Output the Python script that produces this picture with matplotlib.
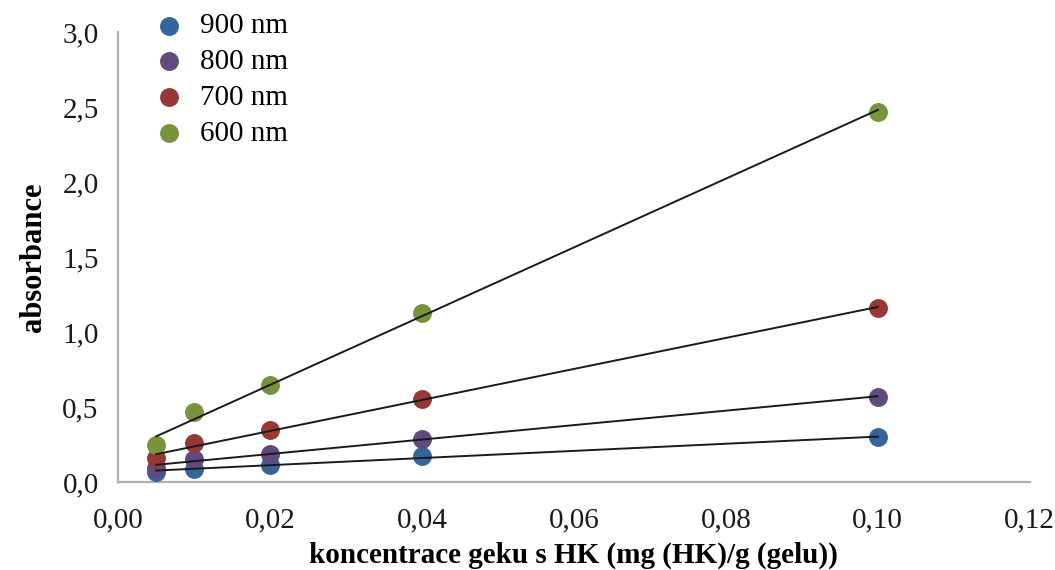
import numpy as np
import matplotlib
matplotlib.use("Agg")
import matplotlib.pyplot as plt
from matplotlib.ticker import FuncFormatter

plt.rcParams['font.family'] = ['Liberation Serif', 'DejaVu Serif']

x = [0.005, 0.01, 0.02, 0.04, 0.10]
series_names = ["900 nm", "800 nm", "700 nm", "600 nm"]
y900 = [0.065, 0.091, 0.116, 0.176, 0.298]
y800 = [0.098, 0.158, 0.187, 0.287, 0.571]
y700 = [0.160, 0.258, 0.347, 0.553, 1.164]
y600 = [0.247, 0.465, 0.649, 1.130, 2.469]
colors = ["#35659b", "#614a7d", "#953836", "#77933c"]

x_ticks = [0.0, 0.02, 0.04, 0.06, 0.08, 0.10, 0.12]
y_ticks = [0.0, 0.5, 1.0, 1.5, 2.0, 2.5, 3.0]

fig = plt.figure(figsize=(10.55, 5.70), dpi=100)
ax = fig.add_axes([0.112, 0.154, 0.864, 0.790])

xa = np.array(x)
for name, ys, c in zip(series_names, [y900, y800, y700, y600], colors):
    ax.scatter(xa, ys, s=185, color=c, label=name, zorder=3, linewidths=0)
for ys in [y900, y800, y700, y600]:
    k, q = np.polyfit(xa, ys, 1)
    xl = np.array([xa.min(), xa.max()])
    ax.plot(xl, k * xl + q, color="#1a1a1a", lw=1.4, zorder=4)

ax.set_xlim(0, 0.12)
ax.set_ylim(0, 3.0)
ax.set_xticks(x_ticks)
ax.set_yticks(y_ticks)
ax.xaxis.set_major_formatter(FuncFormatter(lambda v, p: f"{v:.2f}".replace(".", ",")))
ax.yaxis.set_major_formatter(FuncFormatter(lambda v, p: f"{v:.1f}".replace(".", ",")))
ax.tick_params(axis='both', length=0, labelsize=21, colors="#1a1a1a")
ax.tick_params(axis='x', pad=18)
ax.tick_params(axis='y', pad=14)
for s in ["top", "right"]:
    ax.spines[s].set_visible(False)
for s in ["left", "bottom"]:
    ax.spines[s].set_color("#b0b0b0")
    ax.spines[s].set_linewidth(1.6)

ax.set_xlabel("koncentrace geku s HK (mg (HK)/g (gelu))", fontsize=21, fontweight="bold", labelpad=6)
ax.set_ylabel("absorbance", fontsize=22, fontweight="bold", labelpad=10)

leg = ax.legend(loc="upper left", bbox_to_anchor=(0.024, 1.068), frameon=False, fontsize=21,
                handletextpad=0.45, labelspacing=0.32, markerscale=1.0, borderaxespad=0,
                handlelength=1.2)

fig.savefig("out.png", dpi=100)
